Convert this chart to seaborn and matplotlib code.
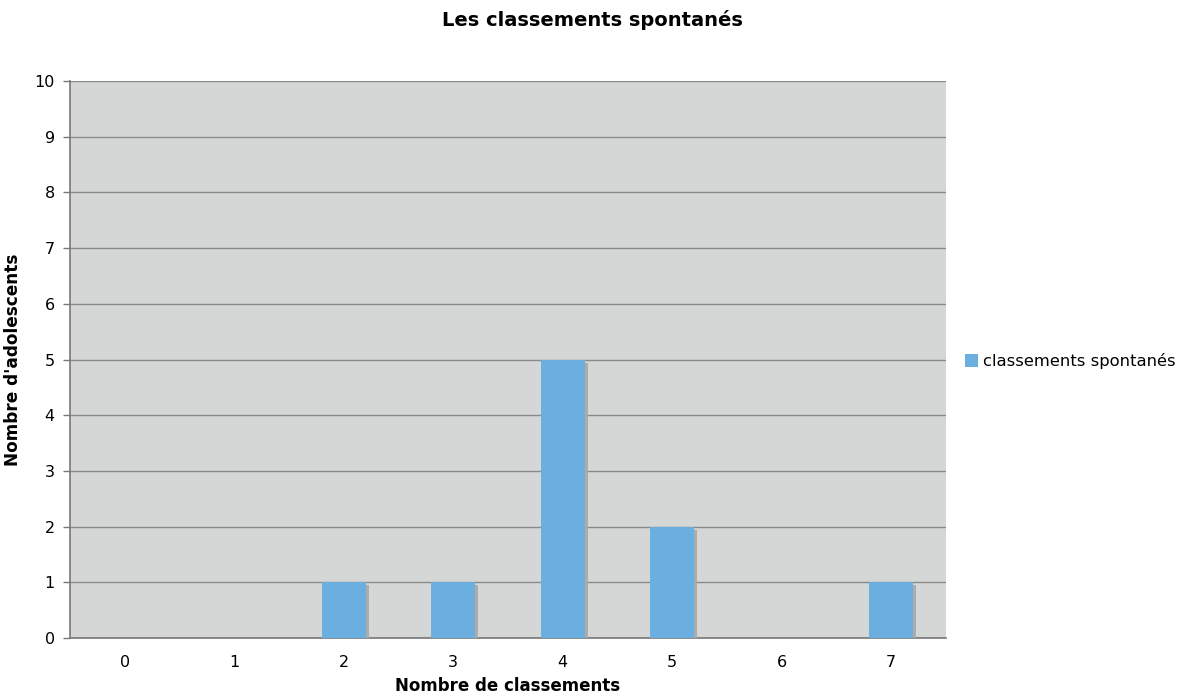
import matplotlib
matplotlib.use("Agg")
import matplotlib.pyplot as plt
import matplotlib.patheffects as pe
import seaborn as sns
import pandas as pd
import numpy as np

categories = ["0", "1", "2", "3", "4", "5", "6", "7"]
values = [0, 0, 1, 1, 5, 2, 0, 1]
series_name = "classements spontanés"

sns.set_theme(style="white")
plt.rcParams['font.family'] = 'sans-serif'
plt.rcParams['font.sans-serif'] = ['DejaVu Sans']
plt.rcParams['text.color'] = 'black'
plt.rcParams['axes.labelcolor'] = 'black'

df = pd.DataFrame({"cat": categories, "val": values, "serie": series_name})

fig = plt.figure(figsize=(11.85, 6.99), dpi=100)
ax = fig.add_axes([70/1185, 1 - 638/699, (946-70)/1185, (638-81)/699])
ax.set_facecolor("#d5d7d6")

sns.barplot(data=df, x="cat", y="val", hue="serie", palette=["#6aafe0"],
            width=0.4, ax=ax, saturation=1, legend=True, zorder=3)
for p in ax.patches:
    p.set_path_effects([pe.SimplePatchShadow(offset=(2.2, -2.2), shadow_rgbFace="#a8a8a8", alpha=0.9), pe.Normal()])
    p.set_edgecolor("none")

ax.set_ylim(0, 10)
ax.set_xlim(-0.5, 7.5)
ax.set_yticks(range(0, 11))
ax.yaxis.grid(True, color="#8a8a8a", linewidth=1, zorder=0)
ax.set_axisbelow(True)

ax.set_xticks(range(8))
ax.set_xticklabels(categories)
ax.set_xticks(np.arange(-0.5, 8, 1), minor=True)
ax.tick_params(axis="x", which="major", length=0, pad=12, labelsize=11.5, colors="black")
ax.tick_params(axis="x", which="minor", length=6, color="#777777", width=1, direction="out")
ax.tick_params(axis="y", length=5, color="#777777", width=1, labelsize=11.5, pad=6, labelcolor="black", direction="out", left=True)

for s in ["top", "right"]:
    ax.spines[s].set_visible(False)
for s in ["left", "bottom"]:
    ax.spines[s].set_color("#777777")
    ax.spines[s].set_linewidth(1.2)

ax.set_xlabel("Nombre de classements", fontsize=12, fontweight="bold", labelpad=5)
ax.set_ylabel("Nombre d'adolescents", fontsize=12.2, fontweight="bold", labelpad=9)
fig.suptitle("Les classements spontanés", fontsize=14, fontweight="bold", y=0.985)

leg = ax.legend(loc="center left", bbox_to_anchor=(1.005, 0.497), frameon=False,
                fontsize=11.8, handlelength=0.8, handleheight=0.8, handletextpad=0.3)
for h in leg.legend_handles:
    h.set_path_effects([])

fig.savefig("out.png", dpi=100, facecolor="white")
